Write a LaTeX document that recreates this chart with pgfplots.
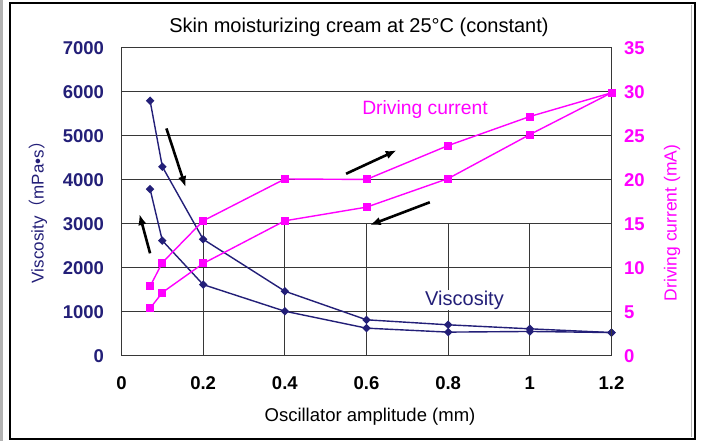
\documentclass[border=0pt]{standalone}
\usepackage{fontspec}
\setmainfont{Liberation Sans}
\newfontfamily\cjk{Noto Sans CJK JP}
\usepackage{pgfplots}
\pgfplotsset{compat=1.18}
\usetikzlibrary{arrows.meta}
\definecolor{navy}{RGB}{35,31,120}
\definecolor{mag}{RGB}{255,0,255}
\definecolor{gridc}{RGB}{55,55,55}
\newcommand{\fs}[1]{\fontsize{#1bp}{#1bp}\selectfont}
\begin{document}
\begin{tikzpicture}[x=1bp,y=1bp]
\useasboundingbox (-121.5,-86) rectangle (579.5,355);
\fill[white] (-121.5,-86) rectangle (579.5,355);
\fill[gray!60] (-121.5,-86) rectangle (-118.5,355);
\draw[black,line width=1.2bp] (-111.5,352) rectangle (573.5,-84);
\draw[gray!60,line width=0.8bp] (569.5,350) -- (569.5,-82);

\begin{axis}[
  at={(0,0)}, anchor=south west, scale only axis,
  width=490bp, height=308bp,
  xmin=0, xmax=1.2, ymin=0, ymax=7000,
  xtick={0,0.2,0.4,0.6,0.8,1,1.2},
  xticklabels={0,0.2,0.4,0.6,0.8,1,1.2},
  ytick={0,1000,2000,3000,4000,5000,6000,7000},
  ymajorgrids,
  major grid style={gridc,line width=0.8bp},
  axis line style={gridc,line width=0.9bp},
  major tick length=0pt,
  scaled y ticks=false,
  /pgf/number format/1000 sep={},
  /pgf/number format/assume math mode=true,
  yticklabel style={navy,font=\fs{18.5}\bfseries,xshift=-14bp,yshift=-1bp},
  xticklabel style={black,font=\fs{18.5}\bfseries,yshift=-18bp},
  clip=false,
]
\pgfplotsinvokeforeach{0.2,0.4,0.6,0.8,1.0}{
  \draw[gridc,line width=0.8bp] (axis cs:#1,0) -- (axis cs:#1,3000);
}
\addplot[navy,line width=1.4bp,mark=square*,mark size=2.3bp,mark options={rotate=45,solid}]
  coordinates {(0.07,5780)(0.1,4280)(0.2,2630)(0.4,1450)(0.6,800)(0.8,686)(1.0,595)(1.2,510)};
\addplot[navy,line width=1.4bp,mark=square*,mark size=2.3bp,mark options={rotate=45,solid}]
  coordinates {(0.07,3770)(0.1,2600)(0.2,1600)(0.4,995)(0.6,610)(0.8,520)(1.0,535)(1.2,510)};
\draw[black,line width=2.6bp,-{Latex[length=11bp,width=8.5bp]}] (axis cs:0.110,5149) -- (axis cs:0.157,3814);
\draw[black,line width=2.6bp,-{Latex[length=11bp,width=8.5bp]}] (axis cs:0.070,2311) -- (axis cs:0.044,3204);
\draw[black,line width=2.6bp,-{Latex[length=11bp,width=8.5bp]}] (axis cs:0.550,4119) -- (axis cs:0.674,4653);
\draw[black,line width=2.6bp,-{Latex[length=11bp,width=8.5bp]}] (axis cs:0.755,3471) -- (axis cs:0.608,2952);
\end{axis}

\begin{axis}[
  at={(0,0)}, anchor=south west, scale only axis,
  width=490bp, height=308bp,
  xmin=0, xmax=1.2, ymin=0, ymax=35,
  axis y line*=right, axis x line=none,
  ytick={0,5,10,15,20,25,30,35},
  axis line style={gridc,line width=0.9bp},
  major tick length=0pt,
  /pgf/number format/assume math mode=true,
  yticklabel style={mag,font=\fs{18.5}\bfseries,xshift=9bp,yshift=-1bp},
  clip=false,
]
\addplot[mag,line width=1.4bp,mark=square*,mark size=3.3bp,mark options={solid}]
  coordinates {(0.07,7.8)(0.1,10.5)(0.2,15.25)(0.4,20)(0.6,19.95)(0.8,23.8)(1.0,27.1)(1.2,29.8)};
\addplot[mag,line width=1.4bp,mark=square*,mark size=3.3bp,mark options={solid}]
  coordinates {(0.07,5.3)(0.1,7.1)(0.2,10.4)(0.4,15.25)(0.6,16.8)(0.8,20.05)(1.0,25.05)(1.2,29.8)};
\end{axis}

\node[font=\fs{20}] at (237.5,328) {Skin moisturizing cream at 25\textdegree C (constant)};
\node[font=\fs{18.5}] at (248.5,-62) {Oscillator amplitude (mm)};
\node[font=\fs{17},text=navy,rotate=90] at (-83.5,147) {Viscosity{\cjk （}mPa•s{\cjk ）}};
\node[font=\fs{17.5},text=mag,rotate=90] at (550.5,132) {Driving current (mA)};
\node[font=\fs{19.3},text=mag] at (303.5,245) {Driving current};
\node[font=\fs{20},text=navy,fill=white,inner sep=1bp] at (343,55) {Viscosity};
\end{tikzpicture}
\end{document}
